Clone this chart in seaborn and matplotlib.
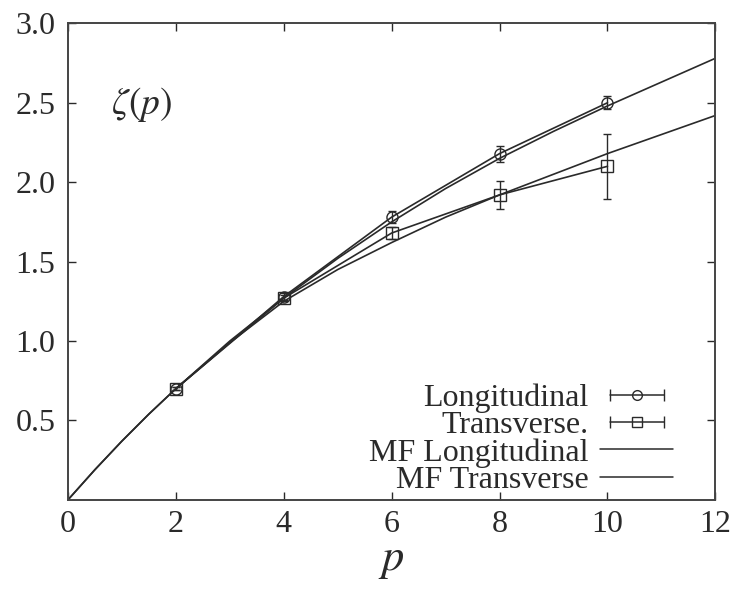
import numpy as np
import pandas as pd
import matplotlib
matplotlib.use("Agg")
import matplotlib.pyplot as plt
import seaborn as sns
from matplotlib.lines import Line2D
from matplotlib.legend_handler import HandlerLine2D, HandlerTuple

p_data = [2, 4, 6, 8, 10]
zeta_long = [0.70, 1.28, 1.78, 2.18, 2.50]
err_long = [0.01, 0.02, 0.04, 0.05, 0.04]
zeta_trans = [0.70, 1.27, 1.68, 1.92, 2.10]
err_trans = [0.01, 0.02, 0.04, 0.09, 0.205]

# Multifractal model curves
p_mf = [0, 0.5, 1, 1.5, 2, 3, 4, 5, 6, 7, 8, 9, 10, 11, 12]
mf_long = [0, 0.19, 0.37, 0.54, 0.70, 1.00, 1.27, 1.52, 1.75, 1.96, 2.15, 2.32, 2.48, 2.63, 2.78]
mf_trans = [0, 0.19, 0.37, 0.54, 0.70, 0.99, 1.25, 1.45, 1.62, 1.78, 1.92, 2.05, 2.18, 2.30, 2.42]

sns.set_theme(style="ticks")
plt.rcParams['font.family'] = ['Liberation Serif', 'DejaVu Serif']
plt.rcParams['mathtext.fontset'] = 'stix'

col = '#2a2a2a'
fig = plt.figure(figsize=(7.3, 5.98), dpi=100)
ax = fig.add_axes([0.093, 0.164, 0.887, 0.797])

df_mf = pd.DataFrame({'p': p_mf, 'long': mf_long, 'trans': mf_trans})
sns.lineplot(data=df_mf, x='p', y='long', ax=ax, color=col, lw=1.2)
sns.lineplot(data=df_mf, x='p', y='trans', ax=ax, color=col, lw=1.2)

ax.errorbar(p_data, zeta_long, yerr=err_long, color=col, lw=1.2, marker='o',
            ms=8, mfc='none', mec=col, mew=1.0, capsize=3, elinewidth=1.0)
ax.errorbar(p_data, zeta_trans, yerr=err_trans, color=col, lw=1.2, marker='s',
            ms=9, mfc='none', mec=col, mew=1.0, capsize=3, elinewidth=1.0)

ax.set_xlim(0, 12)
ax.set_ylim(0, 3.0)
ax.set_xticks([0, 2, 4, 6, 8, 10, 12])
ax.set_xticklabels(['0', '2', '4', '6', '8', '10', '12'])
ax.set_yticks([0.5, 1.0, 1.5, 2.0, 2.5, 3.0])
ax.set_yticklabels(['0.5', '1.0', '1.5', '2.0', '2.5', '3.0'])
ax.tick_params(direction='in', length=6, width=1.0, top=True, right=True,
               labelsize=23, colors=col, pad=9)
ax.tick_params(axis='x', pad=7)
for s in ax.spines.values():
    s.set_color('#444444')
    s.set_linewidth(1.4)

ax.set_xlabel('$p$', fontsize=32, color=col, labelpad=2)
ax.set_ylabel('')
ax.text(0.8, 2.49, r'$\zeta(p)$', fontsize=27, color=col, va='center')

# legend with gnuplot-like horizontal error bar samples
cap_line = Line2D([], [], color=col, lw=1.1, marker='|', ms=8, mew=1.0)
circ = Line2D([], [], ls='none', marker='o', ms=7, mfc='none', mec=col, mew=1.0)
sq = Line2D([], [], ls='none', marker='s', ms=7, mfc='none', mec=col, mew=1.0)
cap_line2 = Line2D([], [], color=col, lw=1.1, marker='|', ms=8, mew=1.0)
mf1 = Line2D([], [], color=col, lw=1.1)
mf2 = Line2D([], [], color=col, lw=1.1)
hmap = {cap_line: HandlerLine2D(numpoints=2), cap_line2: HandlerLine2D(numpoints=2),
        circ: HandlerLine2D(numpoints=1), sq: HandlerLine2D(numpoints=1),
        tuple: HandlerTuple(ndivide=1, pad=0)}
leg = ax.legend([(cap_line, circ), (cap_line2, sq), mf1, mf2],
                ['Longitudinal', 'Transverse.', 'MF Longitudinal', 'MF Transverse'],
                handler_map=hmap, loc='lower right', bbox_to_anchor=(0.955, -0.016),
                frameon=False, markerfirst=False, fontsize=23, labelspacing=-0.07,
                handlelength=2.3, handletextpad=0.35, borderaxespad=0.0)
for t in leg.get_texts():
    t.set_color(col)

fig.savefig('out.png', dpi=100)
